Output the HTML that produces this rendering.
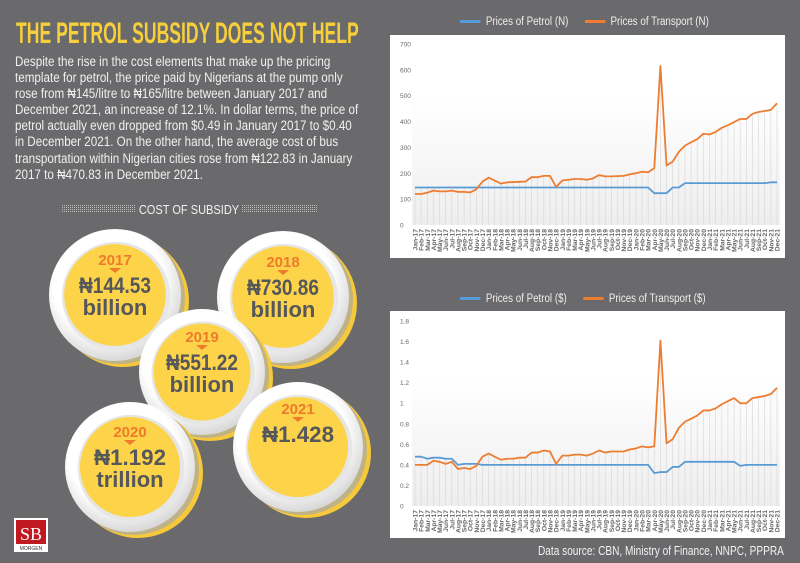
<!DOCTYPE html>
<html><head><meta charset="utf-8">
<style>
body{margin:0;background:#6a6a6c;}
#root{position:relative;width:800px;height:563px;overflow:hidden;background:#6a6a6c;font-family:"Liberation Sans",sans-serif;}
.title{position:absolute;left:16px;top:17px;font-size:30px;font-weight:bold;color:#f6cf3a;letter-spacing:0px;transform:scaleX(0.587);transform-origin:0 0;white-space:nowrap;}
.body{position:absolute;left:15px;top:54px;width:400px;font-size:13.4px;line-height:16.1px;color:#f0f0f0;transform:scaleX(0.87);transform-origin:0 0;white-space:nowrap;}
.legend{position:absolute;font-size:11.5px;color:#eee;white-space:nowrap;transform:scaleX(0.85);transform-origin:0 0;}
.src{position:absolute;left:538px;top:543px;font-size:13px;color:#f2f2f2;transform:scaleX(0.777);transform-origin:0 0;white-space:nowrap;}
</style></head>
<body>
<div id="root">
<div class="title">THE PETROL SUBSIDY DOES NOT HELP</div>
<div class="body">Despite the rise in the cost elements that make up the pricing<br>template for petrol, the price paid by Nigerians at the pump only<br>rose from ₦145/litre to ₦165/litre between January 2017 and<br>December 2021, an increase of 12.1%. In dollar terms, the price of<br>petrol actually even dropped from $0.49 in January 2017 to $0.40<br>in December 2021. On the other hand, the average cost of bus<br>transportation within Nigerian cities rose from ₦122.83 in January<br>2017 to ₦470.83 in December 2021.</div>

<svg style="position:absolute;left:0;top:195px" width="390" height="368">
 <defs>
  <pattern id="dots" width="2" height="2" patternUnits="userSpaceOnUse"><rect width="1" height="1" fill="#bbb"/></pattern>
  <radialGradient id="wg" cx="0.45" cy="0.4" r="0.6"><stop offset="0.7" stop-color="#fff"/><stop offset="1" stop-color="#d8d8d8"/></radialGradient>
 </defs>
 <rect x="62" y="10" width="74" height="8" fill="url(#dots)"/>
 <rect x="242" y="10" width="75" height="8" fill="url(#dots)"/>
 <text x="189" y="19" font-size="13" fill="#f0f0f0" text-anchor="middle" transform="translate(189 0) scale(0.85 1) translate(-189 0)">COST OF SUBSIDY</text>
 <g id="circles"></g>
</svg>

<div class="legend" style="left:460px;top:16px"><span style="display:inline-block;width:24px;height:3px;background:#5b9bd5;vertical-align:middle"></span>&nbsp; Prices of Petrol (N) &nbsp; &nbsp; &nbsp;<span style="display:inline-block;width:24px;height:3px;background:#ed7d31;vertical-align:middle"></span>&nbsp; Prices of Transport (N)</div>
<div class="legend" style="left:460px;top:293px"><span style="display:inline-block;width:24px;height:3px;background:#5b9bd5;vertical-align:middle"></span>&nbsp; Prices of Petrol ($) &nbsp; &nbsp; &nbsp;<span style="display:inline-block;width:24px;height:3px;background:#ed7d31;vertical-align:middle"></span>&nbsp; Prices of Transport ($)</div>

<svg id="c1" style="position:absolute;left:390px;top:35px" width="395" height="223"></svg>
<svg id="c2" style="position:absolute;left:390px;top:311px" width="395" height="227"></svg>

<svg style="position:absolute;left:14px;top:518px" width="34" height="34">
 <rect x="0" y="0" width="34" height="34" fill="#fff"/><rect x="2" y="2" width="30" height="24" fill="#c0191f"/>
 <text x="17" y="22" font-size="18" font-family="Liberation Serif,serif" fill="#fff" text-anchor="middle">SB</text>
 <text x="17" y="32" font-size="5" fill="#333" text-anchor="middle">MORGEN</text>
</svg>
<div class="src">Data source: CBN, Ministry of Finance, NNPC, PPPRA</div>
</div>
<script>
const NS="http://www.w3.org/2000/svg";
const categories=["Jan-17","Feb-17","Mar-17","Apr-17","May-17","Jun-17","Jul-17","Aug-17","Sep-17","Oct-17","Nov-17","Dec-17","Jan-18","Feb-18","Mar-18","Apr-18","May-18","Jun-18","Jul-18","Aug-18","Sep-18","Oct-18","Nov-18","Dec-18","Jan-19","Feb-19","Mar-19","Apr-19","May-19","Jun-19","Jul-19","Aug-19","Sep-19","Oct-19","Nov-19","Dec-19","Jan-20","Feb-20","Mar-20","Apr-20","May-20","Jun-20","Jul-20","Aug-20","Sep-20","Oct-20","Nov-20","Dec-20","Jan-21","Feb-21","Mar-21","Apr-21","May-21","Jun-21","Jul-21","Aug-21","Sep-21","Oct-21","Nov-21","Dec-21"];
const petrolNaira=[145,145,145,145,145,145,145,145,145,145,145,145,145,145,145,145,145,145,145,145,145,145,145,145,145,145,145,145,145,145,145,145,145,145,145,145,145,145,145,123,123,123,145,145,162,162,162,162,162,162,162,162,162,162,162,162,162,162,165,165];
const transportNaira=[120,120,125,133,130,130,133,128,128,126,138,168,183,172,160,165,166,167,168,185,185,190,190,147,172,175,178,178,175,180,193,188,188,189,190,196,200,206,204,220,615,230,245,283,307,320,332,353,350,360,376,386,398,410,410,430,437,441,445,471];
const petrolUSD=[0.48,0.48,0.46,0.47,0.47,0.46,0.46,0.40,0.41,0.41,0.41,0.40,0.40,0.40,0.40,0.40,0.40,0.40,0.40,0.40,0.40,0.40,0.40,0.40,0.40,0.40,0.40,0.40,0.40,0.40,0.40,0.40,0.40,0.40,0.40,0.40,0.40,0.40,0.40,0.32,0.33,0.33,0.38,0.38,0.43,0.43,0.43,0.43,0.43,0.43,0.43,0.43,0.43,0.39,0.40,0.40,0.40,0.40,0.40,0.40];
const transportUSD=[0.40,0.40,0.40,0.44,0.43,0.41,0.43,0.36,0.37,0.36,0.39,0.48,0.51,0.48,0.45,0.46,0.46,0.47,0.47,0.52,0.52,0.54,0.53,0.41,0.49,0.49,0.50,0.50,0.49,0.51,0.54,0.52,0.53,0.53,0.53,0.55,0.56,0.58,0.57,0.58,1.61,0.61,0.65,0.76,0.82,0.85,0.88,0.93,0.93,0.95,0.99,1.02,1.05,1.00,1.00,1.05,1.06,1.07,1.09,1.15];
const ticksNaira=[0,100,200,300,400,500,600,700];
const ticksUSD=[0,0.2,0.4,0.6,0.8,1,1.2,1.4,1.6,1.8];
const years=["2017","2018","2019","2020","2021"];
const amounts=["₦144.53","₦730.86","₦551.22","₦1.192","₦1.428"];
const units=["billion","billion","billion","trillion",""];

function el(t,a,p){const e=document.createElementNS(NS,t);for(const k in a)e.setAttribute(k,a[k]);p.appendChild(e);return e;}

function chart(svg,ticks,max,s1,s2,x0,x1,yb,yt,tickFmt){
  const xs=i=>x0+(x1-x0)*i/(categories.length-1);
  const ys=v=>yb-(yb-yt)*v/max;
  const bg=el("rect",{x:0,y:0,width:395,height:svg.getAttribute("height"),fill:"#fff"},svg);
  
  
  const g=el("defs",{},svg);
  const lg=el("linearGradient",{id:svg.id+"g",x1:0,y1:0,x2:0,y2:1},g);
  el("stop",{offset:"0","stop-color":"#fff"},lg);el("stop",{offset:"1","stop-color":"#eeeeee"},lg);
  el("rect",{x:x0-3,y:ys(max*0.7),width:x1-x0+6,height:yb-ys(max*0.7),fill:"url(#"+svg.id+"g)"},svg);
  ticks.forEach(t=>{
    const tx=el("text",{x:10,y:ys(t)+2.5,"font-size":6.5,fill:"#666"},svg);
    tx.textContent=tickFmt(t);
    
    
  });
  categories.forEach((c,i)=>{
    const top=Math.min(ys(s1[i]),ys(s2[i]));
    const dl=el("line",{x1:xs(i),x2:xs(i),y1:top,y2:yb,stroke:"#d6d6d6","stroke-width":0.6},svg);
    
    
    const tx=el("text",{transform:`translate(${xs(i)+2.5},${yb+4}) rotate(-90)`,"font-size":6.8,"font-weight":"bold",fill:"#666","text-anchor":"end"},svg);
    tx.textContent=c;
    
    
  });
  [[s1,"#5b9bd5","petrol-line"],[s2,"#ed7d31","transport-line"]].forEach(([s,col,n])=>{
    const p=el("polyline",{points:s.map((v,i)=>xs(i)+","+ys(v)).join(" "),fill:"none",stroke:col,"stroke-width":1.8,"stroke-linejoin":"round"},svg);
    
    
  });
}
chart(document.getElementById("c1"),ticksNaira,700,petrolNaira,transportNaira,25,387,190,9,t=>t);
chart(document.getElementById("c2"),ticksUSD,1.8,petrolUSD,transportUSD,25,387,195,10,t=>t);

const cg=document.getElementById("circles");
const centers=[[115,100,66],[283,102,66],[202,177,63],[130,272,65],[298,252,65]];
centers.forEach(([cx,cy,r],i)=>{
  const grp=el("g",{},cg);
  
  
  el("circle",{cx:cx+8,cy:cy+6,r:r,fill:"#f6c93a"},grp);
  el("circle",{cx:cx+4,cy:cy+3,r:r,fill:"#a8a8a8",opacity:0.7},grp);
  el("circle",{cx:cx,cy:cy,r:r,fill:"url(#wg)"},grp);
  el("circle",{cx:cx+1,cy:cy+1,r:r*0.82,fill:"#e6e6e6"},grp);
  el("circle",{cx:cx,cy:cy,r:r*0.77,fill:"#fdd349"},grp);
  const hasUnit=units[i]!=="";
  const yy=hasUnit?cy-30:cy-33;
  const ty=el("text",{x:cx,y:yy,"font-size":15,"font-weight":"bold",fill:"#ee7a2b","text-anchor":"middle"},grp);
  ty.textContent=years[i];
  el("polygon",{points:`${cx-6},${yy+3} ${cx+6},${yy+3} ${cx},${yy+8}`,fill:"#ee7a2b"},grp);
  const ta=el("text",{x:cx,y:yy+28,"font-size":22,"font-weight":"bold",fill:"#55575a","text-anchor":"middle",textLength:72,lengthAdjust:"spacingAndGlyphs"},grp);
  ta.textContent=amounts[i];
  if(hasUnit){const tu=el("text",{x:cx,y:yy+50,"font-size":22,"font-weight":"bold",fill:"#55575a","text-anchor":"middle"},grp);tu.textContent=units[i];}
});
</script>
</body></html>
